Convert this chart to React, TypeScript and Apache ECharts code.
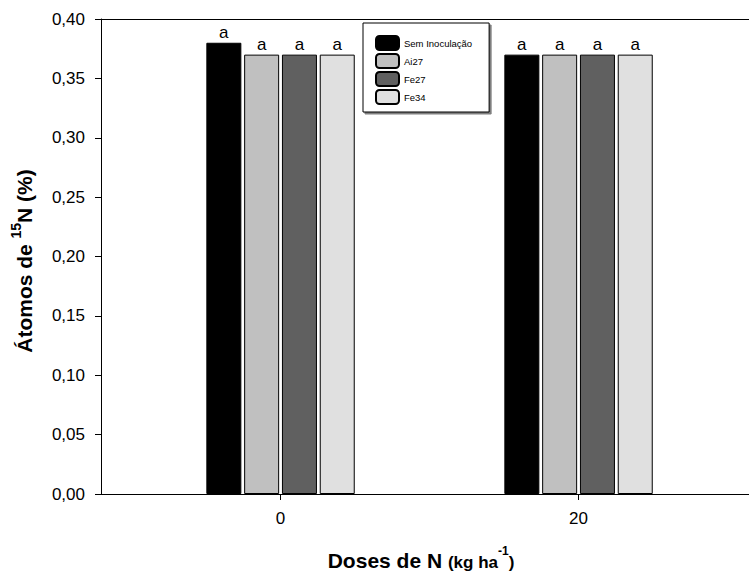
import React, { useEffect, useRef } from "react";
import * as echarts from "echarts";

const doses = [0, 20];
const doseLabels = ["0", "20"];
const seriesNames = ["Sem Inoculação", "Ai27", "Fe27", "Fe34"];
const semInoculacao = [0.38, 0.37];
const ai27 = [0.37, 0.37];
const fe27 = [0.37, 0.37];
const fe34 = [0.37, 0.37];
const letters = [["a", "a"], ["a", "a"], ["a", "a"], ["a", "a"]];
const colors = ["#000000", "#c0c0c0", "#606060", "#e0e0e0"];
const yTicks = [0, 0.05, 0.1, 0.15, 0.2, 0.25, 0.3, 0.35, 0.4];

export default function App() {
  const ref = useRef<HTMLDivElement>(null);
  useEffect(() => {
    if (!ref.current) return;
    const chart = echarts.init(ref.current, null, { renderer: "svg" });
    const values = [semInoculacao, ai27, fe27, fe34];
    const font = "'Liberation Sans', Arial, sans-serif";
    const xMin = -12.05;
    const xMax = 31.44;
    chart.setOption({
      animation: false,
      textStyle: { fontFamily: font },
      grid: {
        left: 101,
        right: 0,
        top: 19,
        bottom: 77,
      },
      legend: {
        orient: "vertical",
        left: 363,
        top: 23,
        backgroundColor: "#fff",
        borderColor: "#000",
        borderWidth: 1,
        padding: [12, 17, 7, 12],
        itemWidth: 23,
        itemHeight: 14,
        itemGap: 2,
        textStyle: { fontSize: 9.5, color: "#000", fontFamily: font },
        data: seriesNames,
        shadowColor: "rgba(0,0,0,0.5)",
        shadowOffsetX: 2,
        shadowOffsetY: 2,
        shadowBlur: 0,
      },
      xAxis: [
        {
          type: "value",
          min: xMin,
          max: xMax,
          splitLine: { show: false },
          axisLine: { show: true, lineStyle: { color: "#000", width: 1 } },
          axisTick: {
            show: true,
            length: 6,
            customValues: doses,
            lineStyle: { color: "#000" },
          },
          axisLabel: {
            customValues: doses,
            formatter: (v: number) => doseLabels[doses.indexOf(v)] ?? "",
            fontSize: 17,
            color: "#000",
            margin: 16,
            fontFamily: font,
          },
        },
        {
          type: "value",
          position: "top",
          min: xMin,
          max: xMax,
          splitLine: { show: false },
          axisLine: { show: true, onZero: false, lineStyle: { color: "#000", width: 1 } },
          axisTick: { show: false },
          axisLabel: { show: false },
        },
      ],
      yAxis: {
        type: "value",
        min: 0,
        max: 0.4,
        interval: 0.05,
        splitLine: { show: false },
        axisLine: { show: true, onZero: false, lineStyle: { color: "#000", width: 1 } },
        axisTick: { show: true, length: 6, lineStyle: { color: "#000" } },
        axisLabel: {
          customValues: yTicks,
          formatter: (v: number) => v.toFixed(2).replace(".", ","),
          fontSize: 17,
          color: "#000",
          margin: 16,
          fontFamily: font,
        },
      },
      series: seriesNames.map((name, i) => ({
        name,
        type: "bar",
        xAxisIndex: 0,
        barWidth: 35,
        barGap: "8%",
        data: doses.map((d, j) => [d, values[i][j]]),
        itemStyle: { color: colors[i], borderColor: "#000", borderWidth: 1 },
        label: {
          show: true,
          position: "top",
          distance: 2,
          formatter: (p: any) => letters[i][p.dataIndex],
          fontSize: 17,
          color: "#000",
          fontFamily: font,
        },
      })),
      graphic: [
        {
          type: "text",
          x: 421,
          y: 558,
          style: {
            text: "{b|Doses de N }{m|(kg ha}{s|-1}{m|)}",
            align: "center",
            verticalAlign: "middle",
            fontFamily: font,
            rich: {
              b: { fontSize: 21, fontWeight: "bold", fill: "#000", fontFamily: font, verticalAlign: "bottom", lineHeight: 26 },
              m: { fontSize: 17, fontWeight: "bold", fill: "#000", fontFamily: font, verticalAlign: "bottom", lineHeight: 26 },
              s: { fontSize: 12, fontWeight: "bold", fill: "#000", fontFamily: font, verticalAlign: "top", lineHeight: 26 },
            },
          },
        },
        {
          type: "text",
          x: 22,
          y: 261,
          rotation: Math.PI / 2,
          style: {
            text: "{b|Átomos de }{s|15}{b|N (%)}",
            align: "center",
            verticalAlign: "middle",
            fontFamily: font,
            rich: {
              b: { fontSize: 21, fontWeight: "bold", fill: "#000", fontFamily: font, verticalAlign: "bottom", lineHeight: 26 },
              s: { fontSize: 14, fontWeight: "bold", fill: "#000", fontFamily: font, verticalAlign: "top", lineHeight: 26 },
            },
          },
        },
      ],
    });
    return () => chart.dispose();
  }, []);
  return (
    <div
      ref={ref}
      style={{ position: "fixed", left: 0, top: 0, width: 749, height: 571, background: "#fff" }}
    />
  );
}
